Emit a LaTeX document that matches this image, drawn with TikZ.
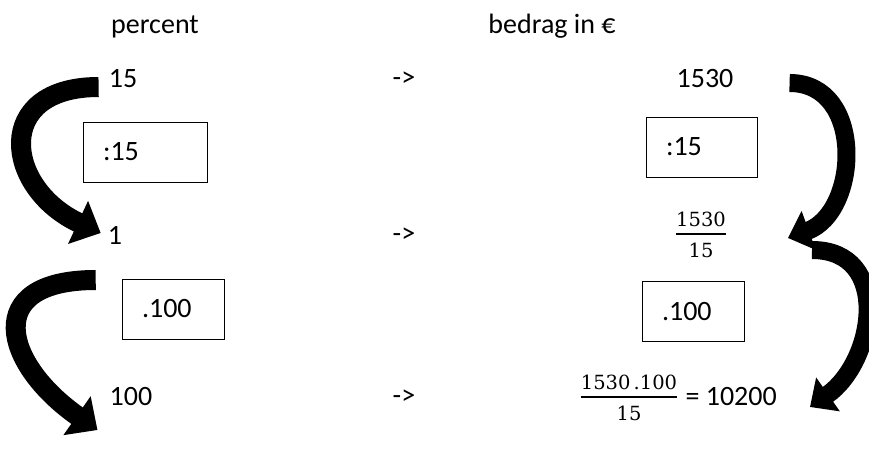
\documentclass[tikz,border=0pt]{standalone}
\usepackage{fontspec}
\setmainfont{Carlito}
\newfontfamily\breukfont{DejaVu Serif}
\usetikzlibrary{arrows.meta, positioning}

\tikzset{
  tekst/.style={inner sep=0pt, font=\fontsize{28}{34}\selectfont},
  opbox/.style={draw, line width=0.9pt, minimum height=60pt, inner xsep=20pt, inner ysep=0pt,
    text width=#1, align=left, font=\fontsize{28}{34}\selectfont},
  breuk/.style={inner sep=0pt, font=\breukfont\fontsize{19.5}{23}\selectfont},
  breukstreep/.style={line width=2.6pt},
  linkerboog/.style={line width=20pt, -{Triangle[length=25pt, width=46pt]}},
  rechterboog/.style={line width=18pt, -{Triangle[length=22pt, width=40pt]}},
}

\begin{document}
\begin{tikzpicture}[x=1pt, y=1pt]
  \useasboundingbox (0,0) rectangle (869,448);
  % kopjes
  \node[tekst, anchor=base] (procent) at (155,414) {percent};
  \node[tekst, anchor=base] (bedrag) at (552,414) {bedrag in €};

  % linker kolom
  \node[tekst] (p15) at (123,369) {15};
  \node[tekst] (p1) at (115,213) {1};
  \node[tekst] (p100) at (131,51) {100};

  \foreach \y/\n in {369/a, 213/b, 51/c}
    \node[tekst] (pijl\n) at (404,\y) {->};

  % rechter kolom
  \node[tekst] (b1530) at (705,369) {1530};

  \coordinate (f1) at (701,214);%breuk 1530/15
  \node[breuk, above=7pt of f1] (f1teller) {1530};
  \node[breuk, below=9pt of f1] (f1noemer) {15};
  \draw[breukstreep] (f1teller.west |- f1) -- (f1teller.east |- f1);

  \coordinate (f2) at (629,51);%breuk 1530.100/15
  \node[breuk, above=7pt of f2] (f2teller) {1530\,.100};
  \node[breuk, below=9pt of f2] (f2noemer) {15};
  \draw[breukstreep] (f2teller.west |- f2) -- (f2teller.east |- f2);
  \node[tekst, anchor=west] (uitkomst) at ([xshift=8pt]f2teller.east |- f2) {= 10200};

  % bewerkingen
  \node[opbox=84pt] (deel1) at (145,296) {:15};
  \node[opbox=71pt] (deel2) at (701.5,301) {:15};
  \node[opbox=62pt] (maal1) at (173,139) {.100};
  \node[opbox=62pt] (maal2) at (693,136.5) {.100};

  % bogen
  \draw[linkerboog] ([xshift=-10pt,yshift=-8pt]p15.west)
    to[out=180, in=155, looseness=1.86] ([xshift=-7pt,yshift=2pt]p1.west);
  \draw[linkerboog] ([xshift=-12pt,yshift=-45pt]p1.west)
    to[out=180, in=145, looseness=1.96] ([xshift=-12pt,yshift=-33pt]p100.west);
  \draw[rechterboog] ([xshift=56pt,yshift=-4pt]b1530.east)
    to[out=0, in=20, looseness=1.25] ([xshift=87pt,yshift=-4pt]f1);
  \draw[rechterboog] ([xshift=111pt,yshift=-16pt]f1)
    to[out=0, in=35, looseness=1.3] ([xshift=33pt,yshift=-10pt]uitkomst.east);
\end{tikzpicture}
\end{document}
